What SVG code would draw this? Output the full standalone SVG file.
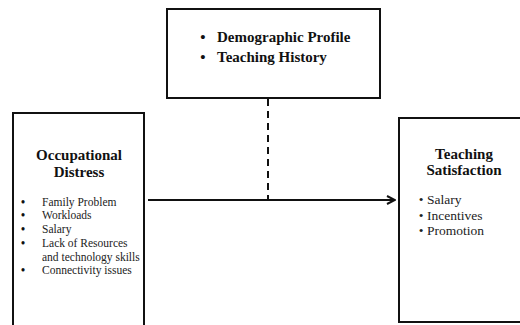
<svg xmlns="http://www.w3.org/2000/svg" width="520" height="325" viewBox="0 0 520 325">
<defs>
<style>
.box{fill:#fff;stroke:#111;stroke-width:2}
.h{font-family:"Liberation Serif","Times New Roman",serif;font-weight:bold;font-size:15px;fill:#111}
.s{font-family:"Liberation Serif","Times New Roman",serif;font-size:11.5px;fill:#222}
.r{font-family:"Liberation Serif","Times New Roman",serif;font-size:13.5px;fill:#222}
.b{font-weight:bold;fill:#111}
.line{stroke:#111;stroke-width:2;fill:none}
</style>
<marker id="arr" viewBox="0 0 10 10" refX="9" refY="5" markerWidth="10" markerHeight="10" markerUnits="userSpaceOnUse" orient="auto">
<path d="M1,1 L9,5 L1,9" fill="none" stroke="#111" stroke-width="2"/>
</marker>
</defs>
<rect width="520" height="325" fill="#fff"/>
<g id="connectors">
<line class="line" x1="268" y1="99" x2="268" y2="200" stroke-width="2.5" stroke-dasharray="7,5"/>
<line class="line" x1="148" y1="200" x2="395" y2="200" marker-end="url(#arr)"/>
</g>
<g id="demographic">
<rect class="box" x="167" y="9" width="213" height="89"/>
<text class="h" x="203" y="42" text-anchor="middle">•</text>
<text class="h" x="217" y="42">Demographic Profile</text>
<text class="h" x="203" y="62" text-anchor="middle">•</text>
<text class="h" x="217" y="62">Teaching History</text>
</g>
<g id="distress">
<rect class="box" x="13" y="113" width="131" height="230"/>
<text class="h" x="79" y="160" text-anchor="middle">Occupational</text>
<text class="h" x="79" y="177" text-anchor="middle">Distress</text>
<g class="s">
<text class="b" x="23" y="206" text-anchor="middle">•</text><text x="42" y="206">Family Problem</text>
<text class="b" x="23" y="219" text-anchor="middle">•</text><text x="42" y="219">Workloads</text>
<text class="b" x="23" y="233" text-anchor="middle">•</text><text x="42" y="233">Salary</text>
<text class="b" x="23" y="247" text-anchor="middle">•</text><text x="42" y="247">Lack of Resources</text>
<text x="42" y="261">and technology skills</text>
<text class="b" x="23" y="274" text-anchor="middle">•</text><text x="42" y="274">Connectivity issues</text>
</g>
</g>
<g id="satisfaction">
<rect class="box" x="399" y="118" width="140" height="204"/>
<text class="h" x="464" y="159" text-anchor="middle">Teaching</text>
<text class="h" x="464" y="175" text-anchor="middle">Satisfaction</text>
<g class="r">
<text x="421" y="204" text-anchor="middle">•</text><text x="427" y="204">Salary</text>
<text x="421" y="220" text-anchor="middle">•</text><text x="427" y="220">Incentives</text>
<text x="421" y="235" text-anchor="middle">•</text><text x="427" y="235">Promotion</text>
</g>
</g>
</svg>
